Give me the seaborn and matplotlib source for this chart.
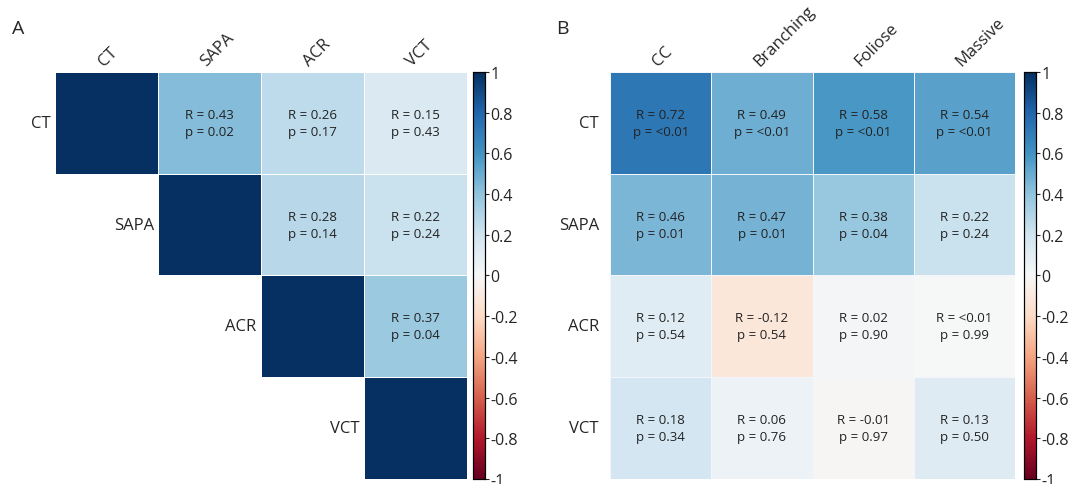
import numpy as np
import pandas as pd
import matplotlib.pyplot as plt
import matplotlib.transforms as mtransforms
import seaborn as sns

#### data: panel A (structure metrics, upper triangle only)
vars_a = ['CT', 'SAPA', 'ACR', 'VCT']
r_a = [[1.00, 0.43, 0.26, 0.15],
       [0.43, 1.00, 0.28, 0.22],
       [0.26, 0.28, 1.00, 0.37],
       [0.15, 0.22, 0.37, 1.00]]
p_a = [['', '0.02', '0.17', '0.43'],
       ['', '', '0.14', '0.24'],
       ['', '', '', '0.04'],
       ['', '', '', '']]

#### data: panel B (structure metrics vs coral growth forms)
cols_b = ['CC', 'Branching', 'Foliose', 'Massive']
r_b = [[0.72, 0.49, 0.58, 0.54],
       [0.46, 0.47, 0.38, 0.22],
       [0.12, -0.12, 0.02, 0.00],
       [0.18, 0.06, -0.01, 0.13]]
r_b_txt = [['0.72', '0.49', '0.58', '0.54'],
           ['0.46', '0.47', '0.38', '0.22'],
           ['0.12', '-0.12', '0.02', '<0.01'],
           ['0.18', '0.06', '-0.01', '0.13']]
p_b = [['<0.01', '<0.01', '<0.01', '<0.01'],
       ['0.01', '0.01', '0.04', '0.24'],
       ['0.54', '0.54', '0.90', '0.99'],
       ['0.34', '0.76', '0.97', '0.50']]

cbar_ticks = [1, 0.8, 0.6, 0.4, 0.2, 0, -0.2, -0.4, -0.6, -0.8, -1]
cbar_labels = ['1', '0.8', '0.6', '0.4', '0.2', '0', '-0.2', '-0.4', '-0.6', '-0.8', '-1']

sns.set_theme(style='white')
plt.rcParams['font.family'] = ['Open Sans', 'DejaVu Sans']

dfa = pd.DataFrame(r_a, index=vars_a, columns=vars_a)
dfb = pd.DataFrame(r_b, index=vars_a, columns=cols_b)

annot_a = np.empty((4, 4), dtype=object)
for i in range(4):
    for j in range(4):
        if p_a[i][j] == '':
            annot_a[i, j] = ''
        else:
            annot_a[i, j] = 'R = %.2f\np = %s' % (r_a[i][j], p_a[i][j])
annot_b = np.empty((4, 4), dtype=object)
for i in range(4):
    for j in range(4):
        annot_b[i, j] = 'R = %s\np = %s' % (r_b_txt[i][j], p_b[i][j])

mask_a = np.tril(np.ones((4, 4), dtype=bool), k=-1)

fig = plt.figure(figsize=(10.68, 4.85), dpi=100)
ax_a = fig.add_axes([0.0515, 0.0103, 0.3855, 0.8392])
cax_a = fig.add_axes([0.4430, 0.0103, 0.0112, 0.8392])
ax_b = fig.add_axes([0.5712, 0.0103, 0.3792, 0.8392])
cax_b = fig.add_axes([0.9590, 0.0103, 0.0112, 0.8392])

kw = dict(cmap='RdBu', vmin=-1, vmax=1, fmt='', linewidths=0.7, linecolor='#f2f6fa',
          annot_kws={'fontsize': 9.5, 'color': '#222222', 'linespacing': 1.4})

sns.heatmap(dfa, mask=mask_a, annot=annot_a, ax=ax_a, cbar_ax=cax_a,
            **dict(kw, linecolor='white'))
sns.heatmap(dfb, annot=annot_b, ax=ax_b, cbar_ax=cax_b, **kw)

for ax, labels in [(ax_a, vars_a), (ax_b, cols_b)]:
    ax.xaxis.tick_top()
    ax.set_xticklabels(labels, rotation=45, ha='left', rotation_mode='anchor', fontsize=12)
    off = mtransforms.ScaledTranslation(-14 / 72, 0, fig.dpi_scale_trans)
    for t in ax.get_xticklabels():
        t.set_transform(t.get_transform() + off)
    ax.tick_params(length=0, pad=2)
    ax.set_xlabel('')
    ax.set_ylabel('')

# panel A: row labels sit next to the diagonal cell
ax_a.set_yticklabels([])
for i, name in enumerate(vars_a):
    ax_a.text(i - 0.04, i + 0.5, name, ha='right', va='center', fontsize=12)

ax_b.set_yticklabels(vars_a, rotation=0, fontsize=12)
ax_b.tick_params(axis='y', pad=8)

for cax in [cax_a, cax_b]:
    cax.set_yticks(cbar_ticks)
    cax.set_yticklabels(cbar_labels, fontsize=11.5)
    cax.tick_params(length=3, width=0.8, pad=1)
    for s in cax.spines.values():
        s.set_visible(True)
        s.set_linewidth(0.8)
        s.set_edgecolor('black')

fig.text(0.017, 0.94, 'A', fontsize=14, ha='center', va='center')
fig.text(0.527, 0.94, 'B', fontsize=14, ha='center', va='center')

plt.savefig('out.png', dpi=100)
